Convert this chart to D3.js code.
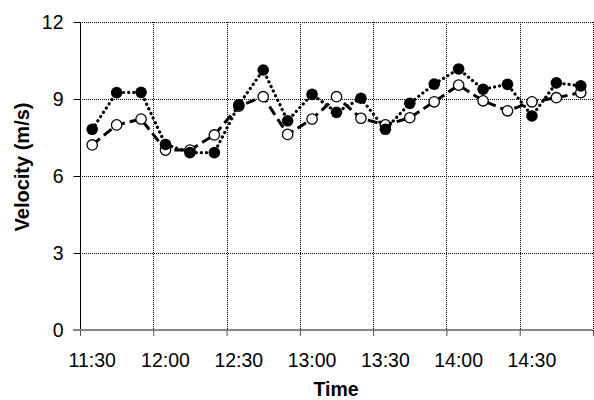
<!DOCTYPE html>
<html>
<head>
<meta charset="utf-8">
<script src="https://cdn.jsdelivr.net/npm/d3@7"></script>
<style>
  html, body { margin: 0; padding: 0; background: #fff; }
  svg { display: block; font-family: "Liberation Sans", Arial, sans-serif; }
</style>
</head>
<body>
<svg id="chart" width="594" height="400"></svg>
<script>
// Sample times (minutes after midnight), every 10 minutes from 11:35 to 14:55
const times = [695, 705, 715, 725, 735, 745, 755, 765, 775, 785, 795,
               805, 815, 825, 835, 845, 855, 865, 875, 885, 895];

// Velocity series (m/s)
const velocityFilled = [7.82, 9.25, 9.26, 7.23, 6.91, 6.91, 8.77, 10.13, 8.15, 9.18, 8.48,
                        9.03, 7.82, 8.83, 9.58, 10.17, 9.38, 9.57, 8.34, 9.63, 9.51];
const velocityOpen   = [7.21, 7.99, 8.22, 7.01, 7.01, 7.60, 8.72, 9.09, 7.62, 8.22, 9.09,
                        8.25, 7.99, 8.27, 8.89, 9.54, 8.93, 8.54, 8.89, 9.05, 9.25];

// Axis ticks
const xTicks = [690, 720, 750, 780, 810, 840, 870, 900];
const xTickLabels = ["11:30", "12:00", "12:30", "13:00", "13:30", "14:00", "14:30"];
const yTicks = [0, 3, 6, 9, 12];

const svg = d3.select("#chart");
const plotLeft = 80, plotRight = 593, plotTop = 22, plotBottom = 330;

const x = d3.scaleLinear().domain([690, 900]).range([plotLeft, plotRight]);
const y = d3.scaleLinear().domain([0, 12]).range([plotBottom, plotTop]);

// Gridlines
const grid = svg.append("g").attr("stroke", "#000").attr("stroke-width", 1)
  .attr("stroke-dasharray", "1,1").attr("shape-rendering", "crispEdges");
grid.selectAll(".gy").data(yTicks.filter(d => d > 0)).join("line")
  .attr("x1", plotLeft).attr("x2", plotRight)
  .attr("y1", d => Math.round(y(d)) + 0.5).attr("y2", d => Math.round(y(d)) + 0.5);
grid.selectAll(".gx").data(xTicks.slice(1)).join("line")
  .attr("x1", d => Math.round(x(d)) + 0.5).attr("x2", d => Math.round(x(d)) + 0.5)
  .attr("y1", plotTop).attr("y2", plotBottom);

// Y axis
const yAxis = d3.axisLeft(y).tickValues(yTicks).tickSize(7).tickPadding(10)
  .tickFormat(d3.format("d"));
const gy = svg.append("g").attr("transform", `translate(${plotLeft + 0.5},0)`).call(yAxis);
gy.select(".domain").attr("stroke", "#000").attr("d", `M0,${plotTop}V${plotBottom + 6}`);
gy.selectAll(".tick line").attr("stroke", "#000");
gy.selectAll(".tick text").attr("font-size", 19.5).attr("fill", "#000")
  .attr("font-family", "Liberation Sans, Arial, sans-serif");

// X axis: ticks every 30 minutes, labels sit centred on the first sample of each interval
const xAxis = d3.axisBottom(x).tickValues(xTicks).tickSize(6).tickFormat("");
const gx = svg.append("g").attr("transform", `translate(0,${plotBottom})`).call(xAxis);
gx.select(".domain").attr("stroke", "#888").attr("stroke-width", 2)
  .attr("d", `M${plotLeft - 7},0H${plotRight}`);
gx.selectAll(".tick line").attr("stroke", "#555");

svg.append("g").selectAll("text").data(xTickLabels).join("text")
  .attr("x", (d, i) => x(xTicks[i] + 5))
  .attr("y", 367)
  .attr("text-anchor", "middle")
  .attr("font-size", 19.5)
  .attr("fill", "#000")
  .text(d => d);

// Axis titles
svg.append("text").attr("x", 336).attr("y", 396).attr("text-anchor", "middle")
  .attr("font-size", 19.5).attr("font-weight", "bold").text("Time");
svg.append("text").attr("transform", "translate(29,167) rotate(-90)")
  .attr("text-anchor", "middle").attr("font-size", 20).attr("font-weight", "bold")
  .text("Velocity (m/s)");

const line = d3.line().x(d => x(d[0])).y(d => y(d[1]));
const openData = times.map((t, i) => [t, velocityOpen[i]]);
const filledData = times.map((t, i) => [t, velocityFilled[i]]);

// Dashed series with open markers
svg.append("path").datum(openData).attr("d", line)
  .attr("fill", "none").attr("stroke", "#000").attr("stroke-width", 3)
  .attr("stroke-dasharray", "10,5");
svg.append("g").selectAll("circle").data(openData).join("circle")
  .attr("cx", d => x(d[0])).attr("cy", d => y(d[1])).attr("r", 5.2)
  .attr("fill", "#fff").attr("stroke", "#000").attr("stroke-width", 1.3);

// Dotted series with filled markers
svg.append("path").datum(filledData).attr("d", line)
  .attr("fill", "none").attr("stroke", "#000").attr("stroke-width", 3.2)
  .attr("stroke-linecap", "round").attr("stroke-dasharray", "0.1,5");
svg.append("g").selectAll("circle").data(filledData).join("circle")
  .attr("cx", d => x(d[0])).attr("cy", d => y(d[1])).attr("r", 5.8)
  .attr("fill", "#000");
</script>
</body>
</html>
